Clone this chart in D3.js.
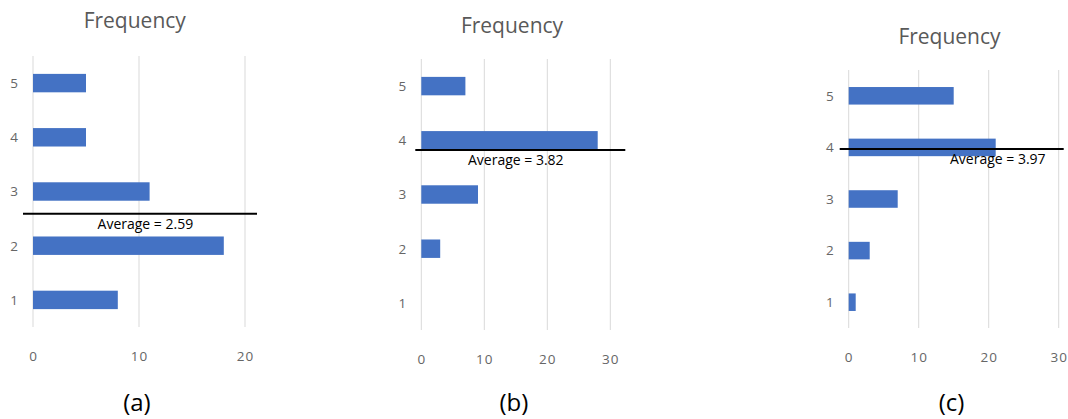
<!DOCTYPE html>
<html>
<head>
<meta charset="utf-8">
<script src="https://cdn.jsdelivr.net/npm/d3@7"></script>
<style>
  html, body { margin: 0; padding: 0; background: #fff; }
  svg { display: block; }
</style>
</head>
<body>
<svg id="chart" width="1068" height="419"></svg>
<script>
// Ratings 1..5 and how many responses each got, one series per panel
const categories = [1, 2, 3, 4, 5];
const freqA = [8, 18, 11, 5, 5];
const freqB = [0, 3, 9, 28, 7];
const freqC = [1, 3, 7, 21, 15];
const averages = [2.59, 3.82, 3.97];
const xTicksA = [0, 10, 20];
const xTicksB = [0, 10, 20, 30];
const xTicksC = [0, 10, 20, 30];
const panelTitle = "Frequency";
const captions = ["(a)", "(b)", "(c)"];

// Layout of each panel (pixel frame of the plot area)
const layout = [
  { left: 33,    right: 245,    top: 56, bottom: 327, xMax: 20, ticks: xTicksA,
    titleY: 20, lineExt: [10, 12], labelAt: 10.6 },
  { left: 421.3, right: 610.3,  top: 59, bottom: 330, xMax: 30, ticks: xTicksB,
    titleY: 25, lineExt: [6, 15],  labelAt: 15 },
  { left: 848.7, right: 1058.7, top: 70, bottom: 328, xMax: 30, ticks: xTicksC,
    titleY: 36, lineExt: [9, 5],   labelAt: 21.3 }
];
const series = [freqA, freqB, freqC];

const svg = d3.select("#chart");
const font = "'Open Sans', sans-serif";

series.forEach((values, i) => {
  const L = layout[i];
  const g = svg.append("g");

  const x = d3.scaleLinear().domain([0, L.xMax]).range([L.left, L.right]);
  const y = d3.scaleLinear().domain([0.5, 5.5]).range([L.bottom, L.top]);
  const step = Math.abs(y(1) - y(2));
  const barH = step * 0.34;

  // vertical gridlines
  g.selectAll("line.grid").data(L.ticks).join("line")
    .attr("class", "grid")
    .attr("x1", d => x(d)).attr("x2", d => x(d))
    .attr("y1", L.top).attr("y2", L.bottom)
    .attr("stroke", "#d9d9d9").attr("stroke-width", 1);

  // value axis labels
  const xAxis = d3.axisBottom(x).tickValues(L.ticks).tickSize(0).tickPadding(0).tickFormat(d3.format("d"));
  const xa = g.append("g").attr("transform", `translate(0,${L.bottom + 24})`).call(xAxis);
  xa.select(".domain").remove();
  xa.selectAll("text").attr("fill", "#666").attr("font-size", 13.5).attr("font-family", font)
    .attr("letter-spacing", 1);

  // category labels
  const yAxis = d3.axisLeft(y).tickValues(categories).tickSize(0).tickPadding(0).tickFormat(d3.format("d"));
  const ya = g.append("g").attr("transform", `translate(${L.left - 15},0)`).call(yAxis);
  ya.select(".domain").remove();
  ya.selectAll("text").attr("fill", "#666").attr("font-size", 13.5).attr("font-family", font);

  // bars
  g.selectAll("rect.bar").data(categories.map((c, k) => ({ c, v: values[k] })).filter(d => d.v > 0))
    .join("rect")
    .attr("class", "bar")
    .attr("x", x(0))
    .attr("y", d => y(d.c) - barH / 2)
    .attr("width", d => x(d.v) - x(0))
    .attr("height", barH)
    .attr("fill", "#4472c4");

  // average line and its label
  const avg = averages[i];
  g.append("line")
    .attr("x1", x(0) - L.lineExt[0]).attr("x2", x(L.xMax) + L.lineExt[1])
    .attr("y1", y(avg)).attr("y2", y(avg))
    .attr("stroke", "#000").attr("stroke-width", 2);
  g.append("text")
    .attr("x", x(L.labelAt)).attr("y", y(avg) + 15)
    .attr("text-anchor", "middle")
    .attr("font-family", font).attr("font-size", 14).attr("fill", "#000")
    .text(`Average = ${avg.toFixed(2)}`);

  // panel title
  g.append("text")
    .attr("x", x(L.xMax * 0.48)).attr("y", L.titleY)
    .attr("text-anchor", "middle").attr("dominant-baseline", "central")
    .attr("font-family", font).attr("font-size", 21).attr("fill", "#595959")
    .text(panelTitle);

  // caption underneath
  g.append("text")
    .attr("x", x(L.xMax * 0.49)).attr("y", 401)
    .attr("text-anchor", "middle").attr("dominant-baseline", "central")
    .attr("font-family", font).attr("font-size", 24).attr("fill", "#000")
    .text(captions[i]);
});
</script>
</body>
</html>
